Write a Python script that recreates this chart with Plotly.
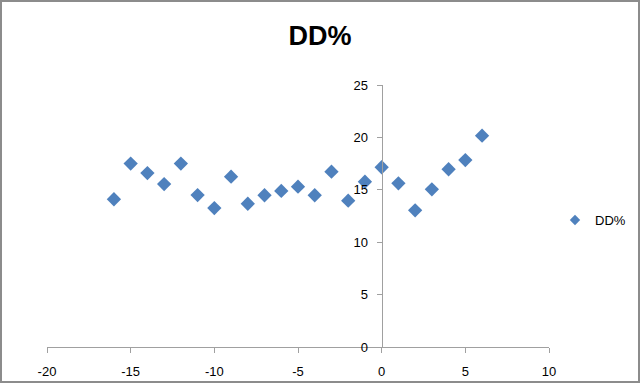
import plotly.graph_objects as go

x_vals = [-16, -15, -14, -13, -12, -11, -10, -9, -8, -7, -6, -5, -4, -3, -2, -1, 0, 1, 2, 3, 4, 5, 6]
dd_pct = [14.1, 17.5, 16.6, 15.55, 17.5, 14.5, 13.26, 16.25, 13.67, 14.48, 14.89, 15.3, 14.48, 16.73,
          13.96, 15.77, 17.15, 15.62, 13.04, 15.05, 16.96, 17.84, 20.16]
series_name = "DD%"
x_ticks = [-20, -15, -10, -5, 0, 5, 10]
y_ticks = [0, 5, 10, 15, 20, 25]

W, H = 640, 383
ML, MR, MT, MB = 47, 91, 85, 36
pw = W - ML - MR
ph = H - MT - MB

x_range = [-20, 10]
y_pos = (0 - x_range[0]) / (x_range[1] - x_range[0])
color = "#4F81BD"

fig = go.Figure()
fig.add_trace(go.Scatter(
    x=x_vals, y=dd_pct, mode="markers", name=series_name, showlegend=False,
    marker=dict(symbol="diamond", size=11, color=color, line=dict(width=0)),
))
# legend entry with the smaller legend glyph
fig.add_trace(go.Scatter(
    x=[None], y=[None], mode="markers", name=series_name, showlegend=True,
    marker=dict(symbol="diamond", size=8, color=color, line=dict(width=0)),
))

axis_font = dict(family="Liberation Sans, Arial, sans-serif", size=13, color="#000000")

fig.update_layout(
    width=W, height=H,
    margin=dict(l=ML, r=MR, t=MT, b=MB, autoexpand=False),
    paper_bgcolor="white", plot_bgcolor="white",
    title=dict(text="<b>DD%</b>", x=320 / W, xanchor="center", y=1 - 36 / H, yanchor="middle",
               xref="container",
               font=dict(family="Liberation Sans, Arial, sans-serif", size=27, color="#000000")),
    showlegend=True,
    legend=dict(x=(555 - ML) / pw, xanchor="left", y=(H - MB - 220) / ph, yanchor="middle",
                yref="paper", font=dict(family="Liberation Sans, Arial, sans-serif", size=13, color="#000000"),
                bgcolor="rgba(0,0,0,0)", itemsizing="trace", itemwidth=30, tracegroupgap=0),
    xaxis=dict(range=x_range, tickvals=x_ticks, ticktext=[str(v) for v in x_ticks],
               showgrid=False, zeroline=False, showline=True, linecolor="#A0A0A0", linewidth=1,
               ticks="outside", ticklen=5, tickcolor="#A0A0A0", tickfont=axis_font,
               ticklabelstandoff=7, anchor="y"),
    yaxis=dict(range=[0, 25], tickvals=y_ticks, ticktext=[str(v) for v in y_ticks],
               showgrid=False, zeroline=False, showline=True, linecolor="#A0A0A0", linewidth=1,
               ticks="outside", ticklen=5, tickcolor="#A0A0A0", tickfont=axis_font,
               anchor="free", position=y_pos, ticklabelstandoff=6),
)

# outer chart border
fig.add_shape(type="rect", xref="paper", yref="paper",
              x0=(1 - ML) / pw, x1=(W - 1 - ML) / pw,
              y0=(H - MB - (H - 1)) / ph, y1=(H - MB - 1) / ph,
              line=dict(color="#8C8C8C", width=2), fillcolor="rgba(0,0,0,0)", layer="below")

fig.write_html("out.html", config={"displayModeBar": False},
               post_script="document.body.style.margin='0';")
